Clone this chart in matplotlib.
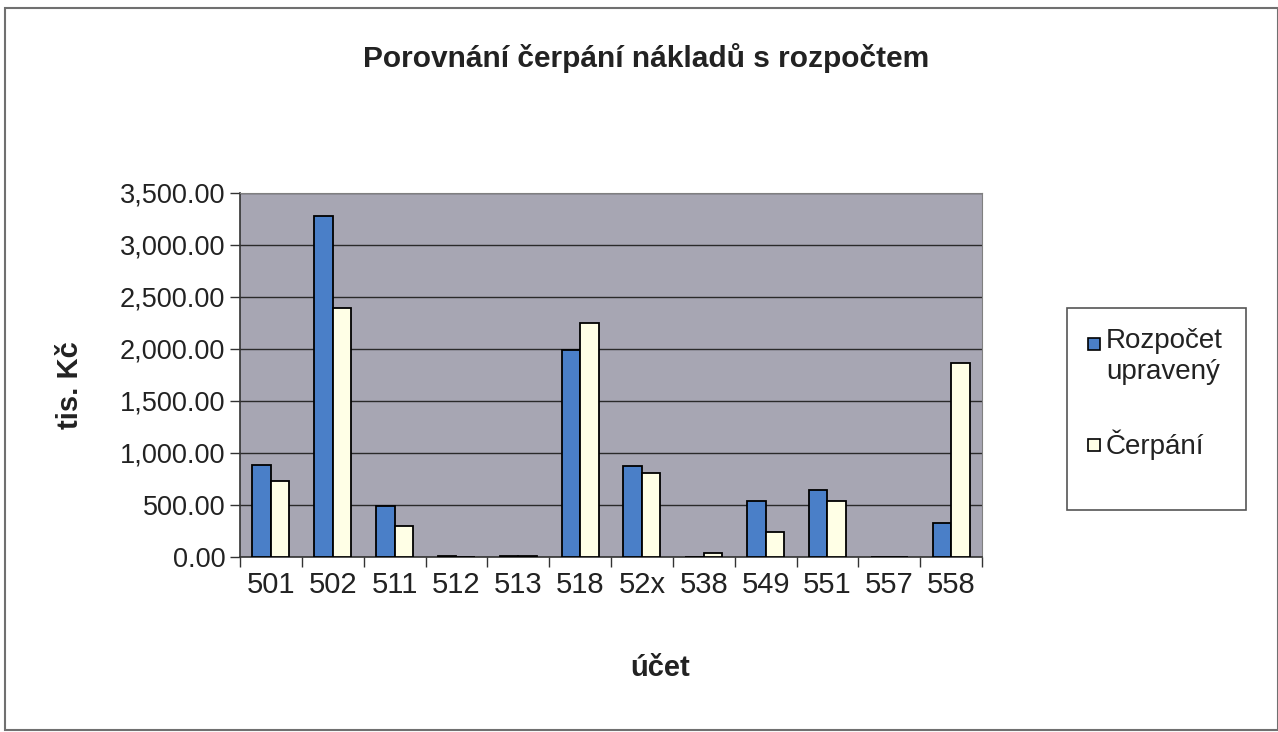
import numpy as np
import matplotlib
matplotlib.use("Agg")
import matplotlib.pyplot as plt
from matplotlib.patches import Rectangle
from matplotlib.ticker import FuncFormatter

plt.rcParams['font.family'] = ['Liberation Sans', 'DejaVu Sans']

# data (tis. Kč)
ucty = ['501', '502', '511', '512', '513', '518', '52x', '538', '549', '551', '557', '558']
rozpocet_upraveny = [885, 3280, 490, 6, 10, 1990, 878, 0, 541, 644, 0, 324]
cerpani = [731, 2391, 298, 4, 6, 2253, 811, 35, 237, 541, 0, 1868]
serie_nazvy = ['Rozpočet\nupravený', 'Čerpání']
barvy = ['#4a7fc8', '#ffffe6']

W, H = 1278, 732
fig = plt.figure(figsize=(W / 100, H / 100), dpi=100)
fig.patch.set_facecolor('white')

def fx(px):
    return px / W

def fy(py):
    return 1 - py / H

# outer chart frame
fig.patches.append(Rectangle((fx(5), fy(730)), 1 - fx(5), 722 / H,
                             transform=fig.transFigure, fill=False,
                             edgecolor='#707070', linewidth=1.5))

ax = fig.add_axes([fx(240), fy(557), 742 / W, 364 / H])
ax.set_facecolor('#a7a6b3')

x = np.arange(len(ucty))
w = 0.3
ax.bar(x - w / 2, rozpocet_upraveny, w, color=barvy[0], edgecolor='black',
       linewidth=1.3, zorder=3)
ax.bar(x + w / 2, cerpani, w, color=barvy[1], edgecolor='black',
       linewidth=1.3, zorder=3)

ax.set_ylim(0, 3500)
ax.set_yticks(np.arange(0, 3501, 500))
ax.yaxis.set_major_formatter(FuncFormatter(lambda v, p: f'{v:,.2f}'))
ax.grid(axis='y', color='#2a2a2a', linewidth=1.0, zorder=1)
ax.set_xlim(-0.5, len(ucty) - 0.5)
ax.set_xticks(x)
ax.set_xticklabels(ucty)
ax.set_xticks(np.arange(-0.5, len(ucty)), minor=True)
ax.tick_params(axis='x', which='major', length=0, labelsize=21, pad=10)
ax.tick_params(axis='x', which='minor', length=7, width=1, color='#333333')
ax.tick_params(axis='y', length=7, width=1, labelsize=19.5, color='#333333')
for lab in ax.get_xticklabels() + ax.get_yticklabels():
    lab.set_color('#222222')

for s in ['top', 'right']:
    ax.spines[s].set_color('#808080')
for s in ['left', 'bottom']:
    ax.spines[s].set_color('#333333')
    ax.spines[s].set_linewidth(1.2)

fig.text(fx(646), fy(58), 'Porovnání čerpání nákladů s rozpočtem',
         ha='center', va='center', fontsize=21.5, fontweight='bold', color='#222222')
fig.text(fx(70), fy(385), 'tis. Kč', ha='center', va='center',
         rotation=90, fontsize=21, fontweight='bold', color='#222222')
fig.text(fx(660), fy(668), 'účet', ha='center', va='center',
         fontsize=21, fontweight='bold', color='#222222')

# legend box drawn like the spreadsheet legend
fig.patches.append(Rectangle((fx(1067), fy(510)), 179 / W, 202 / H,
                             transform=fig.transFigure, fill=False,
                             edgecolor='#555555', linewidth=1.2))
leg_y = [344, 445]
for nazev, barva, yy in zip(serie_nazvy, barvy, leg_y):
    fig.patches.append(Rectangle((fx(1088), fy(yy + 6)), 12 / W, 12 / H,
                                 transform=fig.transFigure, facecolor=barva,
                                 edgecolor='black', linewidth=1.2))
    fig.text(fx(1106), fy(yy - 16), nazev, ha='left', va='top',
             fontsize=20, color='#222222', linespacing=1.25)

fig.savefig('out.png', dpi=100)
